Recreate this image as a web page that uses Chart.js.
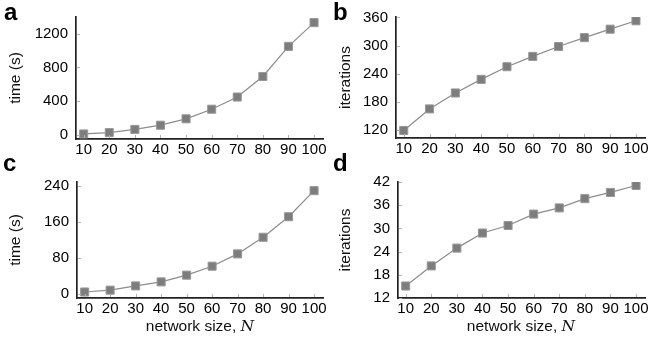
<!DOCTYPE html>
<html>
<head>
<meta charset="utf-8">
<script src="https://cdn.jsdelivr.net/npm/chart.js@4/dist/chart.umd.min.js"></script>
<style>
  html, body { margin: 0; padding: 0; background: #fff; }
  #wrap { position: relative; width: 654px; height: 345px; overflow: hidden; font-family: "Liberation Sans", Arial, sans-serif; }
  canvas { position: absolute; }
  .lab { position: absolute; font-weight: bold; font-size: 24px; line-height: 1; color: #000; }
  .xt { position: absolute; font-size: 15.5px; line-height: 1; color: #111; white-space: nowrap; transform: translateX(-50%); }
  .xt i { font-family: "DejaVu Serif", "Liberation Serif", serif; font-style: italic; }
</style>
</head>
<body>
<div id="wrap">
  <canvas id="ca" width="330" height="165" style="left:0;top:0"></canvas>
  <canvas id="cb" width="324" height="165" style="left:330px;top:0"></canvas>
  <canvas id="cc" width="330" height="180" style="left:0;top:165px"></canvas>
  <canvas id="cd" width="324" height="180" style="left:330px;top:165px"></canvas>
  <div class="lab" style="left:4px;top:0px">a</div>
  <div class="lab" style="left:333px;top:0px">b</div>
  <div class="lab" style="left:3px;top:151px">c</div>
  <div class="lab" style="left:333px;top:151px">d</div>
  <div class="xt" style="left:200px;top:318px">network size, <i>N</i></div>
  <div class="xt" style="left:521px;top:318px">network size, <i>N</i></div>
</div>
<script>
// ---- data ----
const networkSizes = [10, 20, 30, 40, 50, 60, 70, 80, 90, 100];
const timeA = [10, 26, 64, 114, 190, 304, 449, 693, 1051, 1333];
const iterationsB = [119, 165, 199, 228, 255, 277, 298, 317, 335, 353];
const timeC = [3.4, 7.5, 17, 26, 41, 61, 88.5, 125.6, 171.5, 229.7];
const iterationsD = [15.1, 20.3, 24.9, 28.8, 30.75, 33.7, 35.3, 37.7, 39.3, 41.1];
const xTickLabels = [10, 20, 30, 40, 50, 60, 70, 80, 90, 100];
const yTicksA = [0, 400, 800, 1200];
const yTicksB = [120, 180, 240, 300, 360];
const yTicksC = [0, 80, 160, 240];
const yTicksD = [12, 18, 24, 30, 36, 42];

const FONT = "'Liberation Sans', Arial, sans-serif";

const innerTicks = {
  id: 'innerTicks',
  afterDraw(chart) {
    const ctx = chart.ctx, xs = chart.scales.x, ys = chart.scales.y;
    const a = chart.chartArea;
    ctx.save();
    ctx.strokeStyle = '#b5b5b5';
    ctx.lineWidth = 1;
    ctx.beginPath();
    xs.ticks.forEach(t => {
      const px = Math.round(xs.getPixelForValue(t.value)) + 0.5;
      ctx.moveTo(px, a.bottom - 1); ctx.lineTo(px, a.bottom - 4);
    });
    ys.ticks.forEach(t => {
      const py = Math.round(ys.getPixelForValue(t.value)) + 0.5;
      ctx.moveTo(a.left + 1, py); ctx.lineTo(a.left + 4, py);
    });
    ctx.stroke();
    ctx.restore();
  }
};

function makeChart(id, values, yTicks, yMin, yMax, yTitle, L, T, R, B) {
  return new Chart(document.getElementById(id), {
    type: 'line',
    data: {
      datasets: [{
        data: networkSizes.map((n, i) => ({ x: n, y: values[i] })),
        borderColor: '#8c8c8c',
        borderWidth: 1.2,
        pointStyle: 'rect',
        pointRadius: 5.7,
        pointBackgroundColor: '#7d7d7d',
        pointBorderColor: '#989898',
        pointBorderWidth: 1,
        tension: 0
      }]
    },
    options: {
      responsive: false,
      animation: false,
      devicePixelRatio: 1,
      layout: { padding: { top: T, right: R, left: 0, bottom: 0 } },
      plugins: { legend: { display: false }, tooltip: { enabled: false } },
      scales: {
        x: {
          type: 'linear',
          min: 7, max: 103.5,
          afterBuildTicks: s => { s.ticks = xTickLabels.map(v => ({ value: v })); },
          afterFit: s => { s.height = B; },
          grid: { display: true, drawOnChartArea: false, drawTicks: false },
          border: { display: true, color: '#222', width: 1.7 },
          ticks: { font: { family: FONT, size: 15 }, color: '#000', padding: 2, maxRotation: 0, autoSkip: false, callback: v => String(v) }
        },
        y: {
          type: 'linear',
          min: yMin, max: yMax,
          afterBuildTicks: s => { s.ticks = yTicks.map(v => ({ value: v })); },
          afterFit: s => { s.width = L; },
          grid: { display: true, drawOnChartArea: false, drawTicks: false },
          border: { display: true, color: '#222', width: 1.7 },
          ticks: { font: { family: FONT, size: 15 }, color: '#000', padding: 8, callback: v => String(v) },
          title: { display: true, text: yTitle, font: { family: FONT, size: 15.5 }, color: '#111', padding: { top: 6, bottom: 0 } }
        }
      }
    },
    plugins: [innerTicks]
  });
}

makeChart('ca', timeA, yTicksA, -50, 1400, 'time (s)', 76, 12, 7, 26);
makeChart('cb', iterationsB, yTicksB, 103, 361, 'iterations', 66, 11, 9, 27);
makeChart('cc', timeC, yTicksC, -10, 249, 'time (s)', 77, 5, 7, 47);
makeChart('cd', iterationsD, yTicksD, 12, 42, 'iterations', 68, 5, 9, 47);
</script>
</body>
</html>
